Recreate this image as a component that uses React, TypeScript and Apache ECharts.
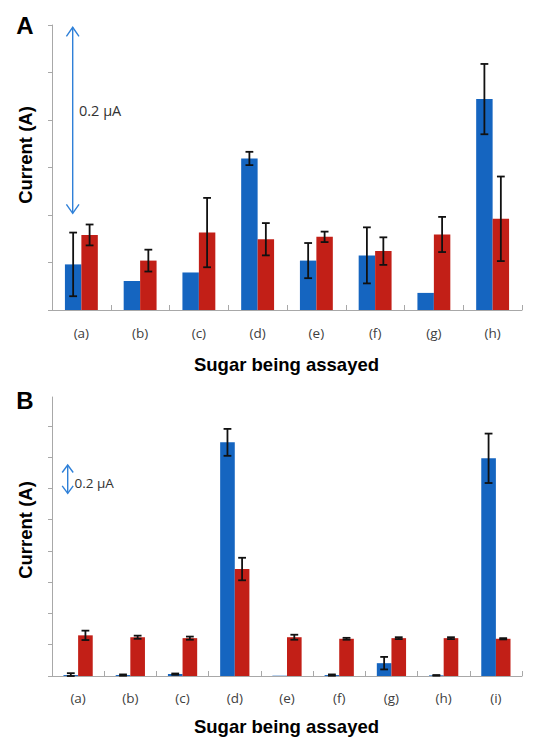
import React, { useEffect, useRef } from "react";
import * as echarts from "echarts";

const catsA = ["(a)", "(b)", "(c)", "(d)", "(e)", "(f)", "(g)", "(h)"];
const blueA = [0.96, 0.61, 0.79, 3.19, 1.04, 1.15, 0.36, 4.44];
const blueErrA: (number | null)[] = [0.67, null, null, 0.14, 0.37, 0.59, null, 0.74];
const redA = [1.58, 1.04, 1.63, 1.49, 1.54, 1.24, 1.59, 1.92];
const redErrA: (number | null)[] = [0.22, 0.23, 0.73, 0.34, 0.11, 0.29, 0.37, 0.89];

const catsB = ["(a)", "(b)", "(c)", "(d)", "(e)", "(f)", "(g)", "(h)", "(i)"];
const blueB = [0.03, 0.03, 0.06, 7.47, 0.01, 0.03, 0.41, 0.02, 6.96];
const blueErrB: (number | null)[] = [0.06, 0.02, 0.02, 0.43, null, 0.02, 0.2, 0.01, 0.79];
const redB = [1.3, 1.24, 1.21, 3.42, 1.24, 1.19, 1.21, 1.21, 1.19];
const redErrB: (number | null)[] = [0.15, 0.05, 0.05, 0.36, 0.08, 0.03, 0.03, 0.03, 0.02];

const BLUE = "#1565c0";
const RED = "#c21f17";
const ARROW = "#2f80d8";
const AXIS = "#a8a8a8";
const GAP = 0.44;

function errData(vals: number[], errs: (number | null)[]) {
  const out: number[][] = [];
  vals.forEach((v, i) => {
    const e = errs[i];
    if (e != null) out.push([i, v, e]);
  });
  return out;
}

function errSeries(xi: number, vals: number[], errs: (number | null)[], side: number) {
  return {
    type: "custom",
    xAxisIndex: xi,
    yAxisIndex: xi,
    z: 10,
    encode: { x: 0, y: 1 },
    data: errData(vals, errs),
    renderItem: (params: any, api: any) => {
      const idx = api.value(0);
      const v = api.value(1);
      const e = api.value(2);
      const band = api.size([1, 0])[0];
      const barW = (band * (1 - GAP)) / 2;
      const c = api.coord([idx, v]);
      const cx = c[0] + (side * barW) / 2;
      const top = api.coord([idx, v + e])[1];
      const bot = api.coord([idx, Math.max(v - e, 0)])[1];
      const hw = 3.9;
      const style = { stroke: "#111", lineWidth: 1.8 };
      return {
        type: "group",
        children: [
          { type: "line", shape: { x1: cx, y1: top, x2: cx, y2: bot }, style },
          { type: "line", shape: { x1: cx - hw, y1: top, x2: cx + hw, y2: top }, style },
          { type: "line", shape: { x1: cx - hw, y1: bot, x2: cx + hw, y2: bot }, style },
        ],
      };
    },
  };
}

function barSeries(xi: number, vals: number[], color: string) {
  return {
    type: "bar",
    xAxisIndex: xi,
    yAxisIndex: xi,
    data: vals,
    barGap: "0%",
    barCategoryGap: "44%",
    itemStyle: { color },
  };
}

function xAxisDef(gi: number, cats: string[], margin: number) {
  return {
    type: "category",
    gridIndex: gi,
    data: cats,
    axisLine: { lineStyle: { color: AXIS, width: 1 } },
    axisTick: { show: true, inside: true, length: 5, lineStyle: { color: AXIS } },
    axisLabel: {
      color: "#404040",
      fontFamily: "Open Sans",
      fontSize: 13.5,
      margin,
    },
  };
}

function yAxisDef(gi: number, max: number, ticks: number[]) {
  return {
    type: "value",
    gridIndex: gi,
    min: 0,
    max,
    interval: 1,
    axisLine: { show: true, lineStyle: { color: AXIS, width: 1 } },
    axisTick: { show: true, length: 4, customValues: ticks, lineStyle: { color: AXIS } },
    axisLabel: { show: false },
    splitLine: { show: false },
  };
}

function arrow(x: number, y1: number, y2: number, hw: number, hh: number) {
  const style = { stroke: ARROW, lineWidth: 1.4, fill: "none" };
  return [
    { type: "line", shape: { x1: x, y1, x2: x, y2 }, style },
    { type: "polyline", shape: { points: [[x - hw, y1 + hh], [x, y1], [x + hw, y1 + hh]] }, style },
    { type: "polyline", shape: { points: [[x - hw, y2 - hh], [x, y2], [x + hw, y2 - hh]] }, style },
  ];
}

function label(text: string, x: number, y: number, size: number, rot = 0, align = "center") {
  return {
    type: "text",
    x,
    y,
    rotation: rot,
    style: {
      text,
      fill: "#000",
      font: `bold ${size}px "Liberation Sans", Arial, sans-serif`,
      align,
      verticalAlign: "middle",
    },
  };
}

export default function App() {
  const ref = useRef<HTMLDivElement>(null);
  useEffect(() => {
    if (!ref.current) return;
    const chart = echarts.init(ref.current, undefined, { renderer: "svg" });
    chart.setOption({
      animation: false,
      backgroundColor: "#fff",
      grid: [
        { left: 52, right: 21, top: 25, height: 285 },
        { left: 52, right: 21, top: 397, height: 279 },
      ],
      xAxis: [xAxisDef(0, catsA, 16), xAxisDef(1, catsB, 15)],
      yAxis: [
        yAxisDef(0, 6, [0, 1, 2, 3, 4, 5, 6]),
        yAxisDef(1, 8.92, [0, 1, 2, 3, 4, 5, 6, 7, 8]),
      ],
      series: [
        barSeries(0, blueA, BLUE),
        barSeries(0, redA, RED),
        errSeries(0, blueA, blueErrA, -1),
        errSeries(0, redA, redErrA, 1),
        barSeries(1, blueB, BLUE),
        barSeries(1, redB, RED),
        errSeries(1, blueB, blueErrB, -1),
        errSeries(1, redB, redErrB, 1),
      ],
      graphic: [
        label("A", 25, 25, 24),
        label("B", 25, 400, 24),
        label("Current (A)", 25.5, 155, 18.5, Math.PI / 2),
        label("Current (A)", 25.5, 530, 18.5, Math.PI / 2),
        label("Sugar being assayed", 286.5, 364, 18.5),
        label("Sugar being assayed", 286.5, 726, 18.5),
        ...arrow(72.7, 27.3, 213.3, 6.3, 9),
        ...arrow(67.7, 465, 493.3, 5.5, 7.5),
        {
          type: "text",
          x: 79,
          y: 110,
          style: {
            text: "0.2 µA",
            fill: "#333",
            font: '14.5px "Open Sans", sans-serif',
            align: "left",
            verticalAlign: "middle",
          },
        },
        {
          type: "text",
          x: 74.5,
          y: 482.7,
          style: {
            text: "0.2 µA",
            fill: "#333",
            font: '13.5px "Open Sans", sans-serif',
            align: "left",
            verticalAlign: "middle",
          },
        },
      ],
    });
    return () => chart.dispose();
  }, []);
  return (
    <div
      ref={ref}
      style={{ position: "fixed", left: 0, top: 0, width: 543, height: 745 }}
    />
  );
}
